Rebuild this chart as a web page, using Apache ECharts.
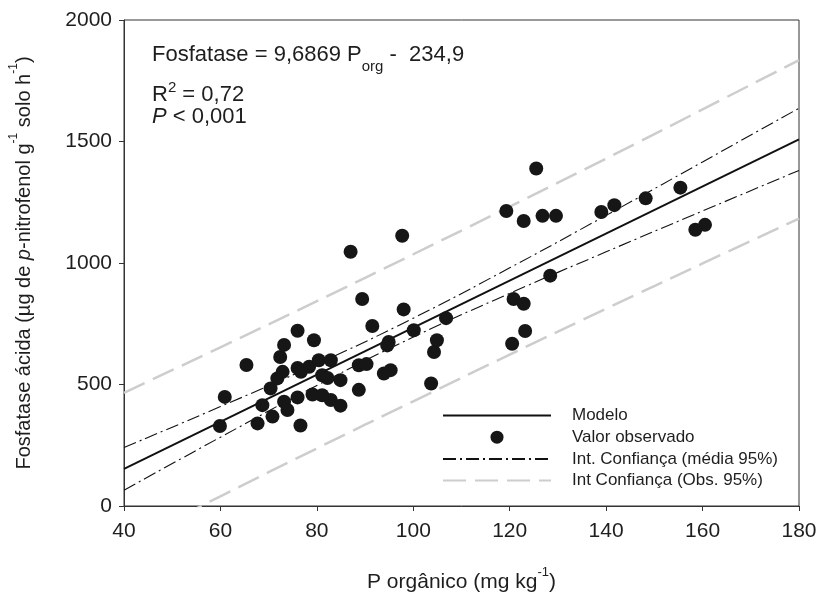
<!DOCTYPE html>
<html>
<head>
<meta charset="utf-8">
<script src="https://cdn.jsdelivr.net/npm/echarts@6/dist/echarts.min.js"></script>
<style>html,body{margin:0;padding:0;background:#fff;}#c{width:820px;height:599px;}</style>
</head>
<body>
<div id="c"></div>
<script>
// Observed values: [P orgânico, Fosfatase]
var observed = [
  [59.9,329],[60.9,449],[65.4,580],[67.7,340],[68.7,415],[70.4,484],[70.8,368],
  [71.8,525],[72.4,613],[72.9,552],[73.2,429],[73.2,663],[73.9,395],[76.0,721],
  [76.0,568],[76.7,552],[76.0,447],[76.6,331],[78.4,573],[79.4,682],[79.1,459],
  [80.4,600],[81.1,456],[81.1,538],[82.2,527],[82.9,600],[82.9,436],[84.9,518],
  [84.9,413],[87.0,1046],[88.7,579],[90.3,584],[89.4,852],[88.7,478],[91.5,741],
  [94.9,675],[94.6,661],[93.9,545],[95.3,559],[97.7,1112],[98.0,809],[100.1,723],
  [103.7,504],[104.3,634],[104.9,682],[106.8,773],[119.3,1214],[120.5,668],
  [120.8,852],[122.9,832],[122.9,1173],[123.2,720],[125.5,1389],[126.8,1194],
  [128.4,948],[129.6,1194],[139.0,1210],[141.7,1238],[148.2,1266],[155.4,1310],
  [158.5,1137],[160.5,1157]
];
var curveX = [40, 60, 80, 100, 120, 140, 160, 180];
var modelX = [40, 180];
var modelY = [153, 1509];
var meanUpper = [241, 409, 584, 773, 980, 1196, 1416, 1637];
var meanLower = [65, 283, 496, 695, 875, 1046, 1214, 1381];
var obsUpper = [466, 653, 843, 1036, 1232, 1430, 1632, 1835];
var obsLower = [-161, 40, 237, 431, 623, 812, 998, 1183];
var xTicks = {min: 40, max: 180, interval: 20};
var yTicks = {min: 0, max: 2000, interval: 500};

function pairs(xs, ys) { return xs.map(function (x, i) { return [x, ys[i]]; }); }

var FONT = 'Liberation Sans, Arial, sans-serif';
var chart = echarts.init(document.getElementById('c'));
var nameMean = 'Int. Confiança (média 95%)';
var nameObs = 'Int Confiança (Obs. 95%)';
var meanStyle = {color: '#111', width: 1.1, type: [13, 4, 2, 4]};
var obsStyle = {color: '#cdcdcd', width: 2.5, type: [23, 9]};
var TXT = '#1e1e1e';

chart.setOption({
  animation: false,
  textStyle: {fontFamily: FONT},
  grid: {left: 123, right: 21, top: 20, bottom: 93, show: true, borderColor: '#333', borderWidth: 1},
  legend: {
    orient: 'vertical', left: 437, top: 402,
    itemWidth: 108, itemHeight: 13, itemGap: 4.7,
    data: [
      {name: 'Modelo', itemStyle: {opacity: 0}},
      {name: 'Valor observado'},
      {name: nameMean, itemStyle: {opacity: 0}},
      {name: nameObs, itemStyle: {opacity: 0}}
    ],
    textStyle: {fontFamily: FONT, fontSize: 17, color: TXT, padding: [0, 0, 0, 16]}
  },
  graphic: [
    {type: 'text', left: 152, top: 44, style: {
      rich: {
        n: {fontSize: 22, fontFamily: FONT, fill: TXT, verticalAlign: 'top', lineHeight: 30},
        sub: {fontSize: 15, fontFamily: FONT, fill: TXT, verticalAlign: 'bottom', lineHeight: 30}
      },
      text: '{n|Fosfatase = 9,6869 P}{sub|org}{n| -  234,9}'
    }},
    {type: 'text', left: 152, top: 80, style: {
      rich: {
        n: {fontSize: 22, fontFamily: FONT, fill: TXT, verticalAlign: 'bottom', lineHeight: 26},
        sup: {fontSize: 15, fontFamily: FONT, fill: TXT, verticalAlign: 'top', lineHeight: 26}
      },
      text: '{n|R}{sup|2}{n| = 0,72}'
    }},
    {type: 'text', left: 152, top: 106, style: {
      rich: {
        n: {fontSize: 22, fontFamily: FONT, fill: TXT},
        i: {fontSize: 22, fontFamily: FONT, fill: TXT, fontStyle: 'italic'}
      },
      text: '{i|P}{n| < 0,001}'
    }}
  ],
  xAxis: {
    type: 'value', min: xTicks.min, max: xTicks.max, interval: xTicks.interval,
    name: '{n|P orgânico (mg kg}{sup|-1}{n|)}',
    nameLocation: 'middle', nameGap: 60,
    nameTextStyle: {rich: {
      n: {fontSize: 21, fontFamily: FONT, color: TXT, verticalAlign: 'bottom', lineHeight: 27},
      sup: {fontSize: 13, fontFamily: FONT, color: TXT, verticalAlign: 'top', lineHeight: 27}
    }},
    axisLine: {show: true, lineStyle: {color: '#333', width: 1}},
    axisTick: {show: true, length: 5, inside: false, lineStyle: {color: '#333'}},
    axisLabel: {fontSize: 21, color: TXT, margin: 15, fontFamily: FONT, formatter: function (v) { return String(v); }},
    splitLine: {show: false}
  },
  yAxis: {
    type: 'value', min: yTicks.min, max: yTicks.max, interval: yTicks.interval,
    name: '{n|Fosfatase ácida (µg de }{i|p}{n|-nitrofenol g}{sup|-1}{n| solo h}{sup|-1}{n|)}',
    nameLocation: 'middle', nameGap: 90, nameRotate: 90,
    nameTextStyle: {rich: {
      n: {fontSize: 20, fontFamily: FONT, color: TXT, verticalAlign: 'bottom', lineHeight: 26},
      i: {fontSize: 20, fontFamily: FONT, color: TXT, fontStyle: 'italic', verticalAlign: 'bottom', lineHeight: 26},
      sup: {fontSize: 12, fontFamily: FONT, color: TXT, verticalAlign: 'top', lineHeight: 26}
    }},
    axisLine: {show: true, lineStyle: {color: '#333', width: 1}},
    axisTick: {show: true, length: 5, inside: false, lineStyle: {color: '#333'}},
    axisLabel: {fontSize: 21, color: TXT, margin: 12, fontFamily: FONT, formatter: function (v) { return String(v); }},
    splitLine: {show: false}
  },
  series: [
    {name: nameObs, type: 'line', data: pairs(curveX, obsUpper), symbol: 'none', smooth: true, lineStyle: obsStyle, itemStyle: {color: '#cdcdcd'}, z: 1},
    {name: nameObs, type: 'line', data: pairs(curveX, obsLower), symbol: 'none', smooth: true, lineStyle: obsStyle, itemStyle: {color: '#cdcdcd'}, z: 1},
    {name: nameMean, type: 'line', data: pairs(curveX, meanUpper), symbol: 'none', smooth: true, lineStyle: meanStyle, itemStyle: {color: '#111'}, z: 2},
    {name: nameMean, type: 'line', data: pairs(curveX, meanLower), symbol: 'none', smooth: true, lineStyle: meanStyle, itemStyle: {color: '#111'}, z: 2},
    {name: 'Modelo', type: 'line', data: pairs(modelX, modelY), symbol: 'none', lineStyle: {color: '#111', width: 2}, itemStyle: {color: '#111'}, z: 3},
    {name: 'Valor observado', type: 'scatter', data: observed, symbol: 'circle', symbolSize: 14, itemStyle: {color: '#161616', opacity: 1}, z: 4}
  ]
});
</script>
</body>
</html>
